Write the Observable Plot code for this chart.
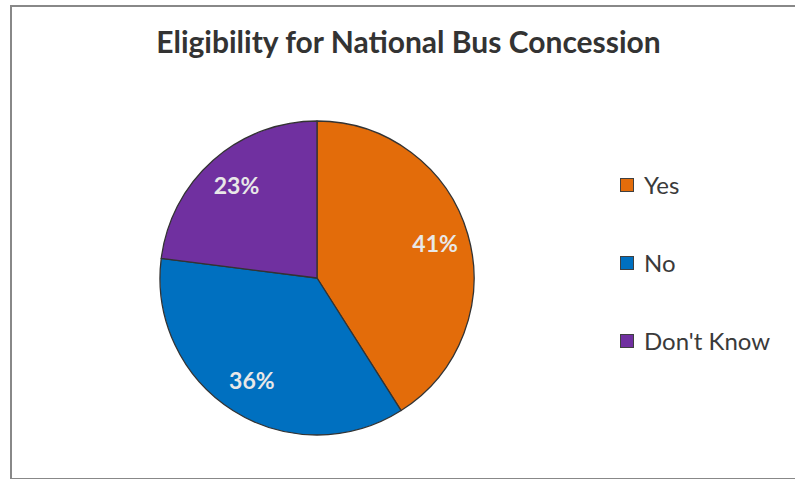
<!DOCTYPE html>
<html>
<head>
<meta charset="utf-8">
<script src="https://cdn.jsdelivr.net/npm/d3@7"></script>
<script src="https://cdn.jsdelivr.net/npm/@observablehq/plot@0.6"></script>
<style>
  html, body { margin: 0; padding: 0; background: #fff; }
  body { width: 795px; height: 479px; position: relative; overflow: hidden; font-family: Lato, "Open Sans", sans-serif; }
  #frame { position: absolute; left: 10px; top: 5px; width: 800px; height: 471px; border: 2px solid #888; box-sizing: content-box; }
  #title { position: absolute; left: 0; width: 817px; top: 23px; text-align: center; font-weight: bold; font-size: 30px; color: #333; }
  #chart { position: absolute; left: 0; top: 0; }
  #legend { position: absolute; left: 620px; top: 0; }
  .item { position: absolute; left: 0; white-space: nowrap; font-size: 24px; color: #3a3a3a; display: flex; align-items: center; }
  .sw { width: 12px; height: 12px; border: 1.5px solid #404040; margin-right: 10px; }
</style>
</head>
<body>
<div id="frame"></div>
<div id="chart"></div>
<div id="title">Eligibility for National Bus Concession</div>
<div id="legend"></div>
<script>
const categories = ["Yes", "No", "Don't Know"];
const values = [41, 36, 23];
const labels = ["41%", "36%", "23%"];
const colors = ["#E36C0A", "#0070C0", "#7030A0"];

const cx = 317, cy = 278, R = 157;
const pie = d3.pie().sort(null).value(d => d.value);
const data = categories.map((c, i) => ({category: c, value: values[i], label: labels[i]}));
const arcs = pie(data).map(a => {
  const mid = (a.startAngle + a.endAngle) / 2;
  return {...a, category: a.data.category, label: a.data.label, lx: 0.78 * Math.sin(mid), ly: 0.78 * Math.cos(mid)};
});

const slices = (index, scales) => {
  const x0 = scales.x(0), y0 = scales.y(0);
  const r = scales.x(1) - scales.x(0);
  const arc = d3.arc().innerRadius(0).outerRadius(r);
  const g = d3.create("svg:g").attr("transform", `translate(${x0},${y0})`);
  g.selectAll("path").data(arcs).join("path")
    .attr("d", arc)
    .attr("fill", d => scales.color(d.category))
    .attr("stroke", "#333")
    .attr("stroke-width", 1.3)
    .attr("stroke-linejoin", "round");
  return g.node();
};

const chart = Plot.plot({
  width: 795,
  height: 479,
  margin: 0,
  x: {domain: [-1, 1], range: [cx - R, cx + R], axis: null},
  y: {domain: [-1, 1], range: [cy + R, cy - R], axis: null},
  color: {domain: categories, range: colors},
  style: {background: "transparent", overflow: "visible"},
  marks: [
    slices,
    Plot.text(arcs, {x: "lx", y: "ly", text: "label", fill: "#e8e8e8", fontSize: 23, fontWeight: "bold", fontFamily: "Lato, 'Open Sans', sans-serif"})
  ]
});
document.getElementById("chart").appendChild(chart);

const legend = document.getElementById("legend");
const legendY = [185, 263, 341];
categories.forEach((c, i) => {
  const item = document.createElement("div");
  item.className = "item";
  item.style.top = (legendY[i] - 15) + "px";
  const sw = document.createElement("span");
  sw.className = "sw";
  sw.style.background = colors[i];
  const t = document.createElement("span");
  t.textContent = c;
  item.appendChild(sw);
  item.appendChild(t);
  legend.appendChild(item);
});
</script>
</body>
</html>
